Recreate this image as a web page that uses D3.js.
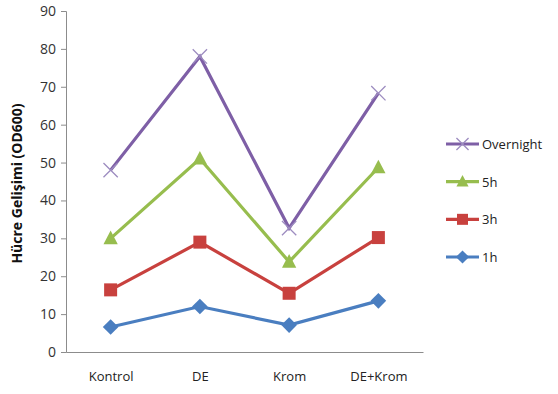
<!DOCTYPE html>
<html>
<head>
<meta charset="utf-8">
<script src="https://cdn.jsdelivr.net/npm/d3@7"></script>
<style>
  html, body { margin: 0; padding: 0; background: #fff; }
  svg { display: block; }
  text { font-family: "Open Sans", "Liberation Sans", sans-serif; }
</style>
</head>
<body>
<svg id="chart" width="558" height="394"></svg>
<script>
const categories = ["Kontrol", "DE", "Krom", "DE+Krom"];
const seriesNames = ["Overnight", "5h", "3h", "1h"];
const overnight = [48, 78, 32.7, 68.3];
const h5 = [30, 51, 23.8, 48.7];
const h3 = [16.4, 29, 15.5, 30.2];
const h1 = [6.6, 12, 7.1, 13.5];
const yTicks = [0, 10, 20, 30, 40, 50, 60, 70, 80, 90];
const yTitle = "Hücre Gelişimi (OD600)";

const series = [
  { name: seriesNames[0], values: overnight, color: "#7E5FA6", marker: "x" },
  { name: seriesNames[1], values: h5, color: "#97BD4E", marker: "triangle" },
  { name: seriesNames[2], values: h3, color: "#C8413E", marker: "square" },
  { name: seriesNames[3], values: h1, color: "#4A7EC0", marker: "diamond" }
];

const svg = d3.select("#chart");
const m = { left: 66, right: 423, top: 11, bottom: 352 };

const x = d3.scalePoint().domain(categories).range([m.left, m.right]).padding(0.5);
const y = d3.scaleLinear().domain([0, 90]).range([m.bottom, m.top]);

// y axis
const yAxis = svg.append("g").attr("transform", `translate(${m.left},0)`)
  .call(d3.axisLeft(y).tickValues(yTicks).tickSize(5).tickPadding(5));
yAxis.select(".domain").attr("stroke", "#8c8c8c");
yAxis.selectAll(".tick line").attr("stroke", "#8c8c8c");
yAxis.selectAll(".tick text").attr("font-size", 14).attr("fill", "#333");

// x axis
const xAxis = svg.append("g").attr("transform", `translate(0,${m.bottom})`)
  .call(d3.axisBottom(x).tickSize(0).tickPadding(20).tickSizeOuter(0));
xAxis.select(".domain").attr("stroke", "#8c8c8c");
xAxis.selectAll(".tick text").attr("font-size", 13).attr("fill", "#222");

// y title
svg.append("text")
  .attr("transform", `translate(22,${(m.top + m.bottom) / 2 + 2}) rotate(-90)`)
  .attr("text-anchor", "middle")
  .attr("font-size", 14).attr("font-weight", "bold").attr("fill", "#111")
  .text(yTitle);

const line = d3.line().x((d, i) => x(categories[i])).y(d => y(d));

function drawMarker(g, type, color, cx, cy, s) {
  if (type === "x") {
    const r = s * 0.55;
    g.append("path")
      .attr("d", `M${cx - r},${cy - r}L${cx + r},${cy + r}M${cx - r},${cy + r}L${cx + r},${cy - r}`)
      .attr("stroke", "#9d8cc0").attr("stroke-width", 1.3).attr("fill", "none");
  } else if (type === "triangle") {
    g.append("path")
      .attr("d", `M${cx},${cy - s * 0.6}L${cx + s * 0.55},${cy + s * 0.45}L${cx - s * 0.55},${cy + s * 0.45}Z`)
      .attr("fill", color);
  } else if (type === "square") {
    g.append("rect").attr("x", cx - s / 2).attr("y", cy - s / 2)
      .attr("width", s).attr("height", s).attr("fill", color);
  } else if (type === "diamond") {
    const r = s * 0.6;
    g.append("path")
      .attr("d", `M${cx},${cy - r}L${cx + r},${cy}L${cx},${cy + r}L${cx - r},${cy}Z`)
      .attr("fill", color);
  }
}

// series lines and markers (bottom series drawn first)
series.slice().reverse().forEach(s => {
  const g = svg.append("g");
  g.append("path").datum(s.values).attr("d", line)
    .attr("fill", "none").attr("stroke", s.color).attr("stroke-width", 3.2)
    .attr("stroke-linejoin", "miter");
  s.values.forEach((v, i) => drawMarker(g, s.marker, s.color, x(categories[i]), y(v), 13));
});

// legend
const legend = svg.append("g");
const legY = d3.scalePoint().domain(seriesNames).range([144, 257]);
series.forEach(s => {
  const ly = legY(s.name);
  legend.append("line").attr("x1", 446).attr("x2", 479).attr("y1", ly).attr("y2", ly)
    .attr("stroke", s.color).attr("stroke-width", 3.2);
  drawMarker(legend, s.marker, s.color, 462.5, ly, 11);
  legend.append("text").attr("x", 482).attr("y", ly + 5)
    .attr("font-size", 13).attr("fill", "#222").text(s.name);
});
</script>
</body>
</html>
